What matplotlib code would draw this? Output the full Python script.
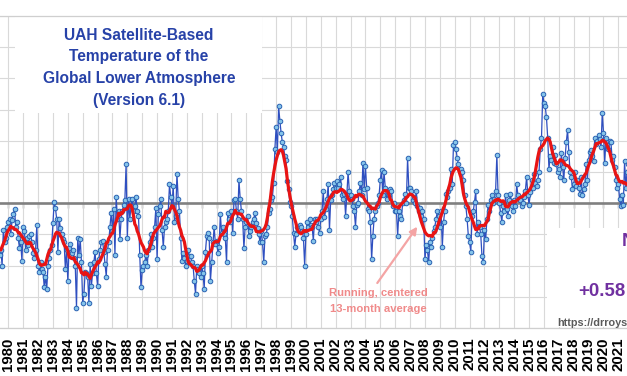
import numpy as np
import pandas as pd
import matplotlib
matplotlib.use("Agg")
import matplotlib.pyplot as plt
from matplotlib.patches import Rectangle

# ---- monthly anomalies (deg C), 12 plotted points per year label ----
a1979 = [-0.38, -0.45, -0.35, -0.38, -0.40, -0.33, -0.30, -0.40, -0.17, -0.25, -0.22, -0.15]
a1980 = [-0.12, -0.10, -0.20, -0.11, -0.07, -0.04, -0.15, -0.12, -0.22, -0.29, -0.25, -0.37]
a1981 = [-0.15, -0.18, -0.30, -0.22, -0.27, -0.21, -0.20, -0.25, -0.32, -0.35, -0.30, -0.14]
a1982 = [-0.40, -0.44, -0.38, -0.42, -0.44, -0.54, -0.47, -0.55, -0.40, -0.35, -0.30, -0.27]
a1983 = [-0.13, 0.01, -0.03, -0.10, -0.31, -0.10, -0.16, -0.20, -0.23, -0.25, -0.42, -0.30]
a1984 = [-0.50, -0.29, -0.26, -0.32, -0.30, -0.35, -0.40, -0.67, -0.22, -0.33, -0.23, -0.38]
a1985 = [-0.64, -0.58, -0.44, -0.45, -0.47, -0.64, -0.39, -0.53, -0.45, -0.38, -0.31, -0.45]
a1986 = [-0.53, -0.36, -0.30, -0.25, -0.24, -0.31, -0.39, -0.47, -0.30, -0.25, -0.15, -0.06]
a1987 = [-0.18, -0.04, -0.33, 0.04, -0.10, -0.05, -0.23, -0.10, -0.05, -0.01, 0.02, 0.25]
a1988 = [-0.22, 0.03, -0.10, -0.02, 0.03, -0.05, -0.02, 0.04, -0.05, -0.08, -0.33, -0.54]
a1989 = [-0.43, -0.40, -0.38, -0.33, -0.40, -0.30, -0.25, -0.20, -0.28, -0.22, -0.15, -0.03]
a1990 = [-0.36, -0.07, -0.02, 0.03, -0.17, -0.28, -0.15, -0.12, -0.10, -0.05, 0.12, 0.04]
a1991 = [-0.02, 0.11, -0.12, -0.08, 0.19, 0.03, -0.05, -0.22, -0.37, -0.32, -0.35, -0.40]
a1992 = [-0.37, -0.30, -0.34, -0.34, -0.38, -0.40, -0.50, -0.58, -0.40, -0.42, -0.45, -0.47]
a1993 = [-0.40, -0.45, -0.55, -0.31, -0.21, -0.19, -0.22, -0.50, -0.38, -0.25, -0.15, -0.26]
a1994 = [-0.24, -0.32, -0.28, -0.07, -0.19, -0.15, -0.20, -0.22, -0.38, -0.06, -0.10, -0.12]
a1995 = [-0.05, -0.19, 0.02, 0.03, -0.05, -0.10, 0.15, 0.03, -0.05, -0.10, -0.29, -0.15]
a1996 = [-0.12, -0.08, -0.21, -0.18, -0.15, -0.12, -0.10, -0.06, -0.13, -0.16, -0.20, -0.25]
a1997 = [-0.18, -0.25, -0.38, -0.21, -0.20, -0.15, -0.06, -0.04, 0.02, 0.04, 0.13, 0.35]
a1998 = [0.49, 0.33, 0.62, 0.53, 0.45, 0.39, 0.36, 0.30, 0.28, 0.14, 0.09, 0.01]
a1999 = [-0.02, -0.08, -0.19, -0.28, -0.20, -0.15, -0.17, -0.14, -0.15, -0.18, -0.22, -0.40]
a2000 = [-0.20, -0.12, -0.15, -0.10, -0.14, -0.15, -0.24, -0.10, -0.12, -0.10, -0.15, -0.19]
a2001 = [-0.10, -0.05, 0.08, -0.09, -0.04, 0.03, 0.12, -0.17, 0.02, 0.05, 0.09, 0.13]
a2002 = [0.10, 0.14, 0.10, 0.12, 0.17, 0.05, 0.03, 0.06, -0.08, 0.05, 0.20, 0.08]
a2003 = [0.05, 0.03, -0.02, -0.05, -0.15, -0.01, 0.00, 0.08, 0.13, 0.05, 0.26, 0.09]
a2004 = [0.24, 0.10, -0.04, -0.05, -0.12, -0.36, -0.21, -0.10, -0.05, -0.02, 0.00, 0.05]
a2005 = [0.15, 0.21, 0.05, 0.20, 0.10, 0.03, 0.06, 0.05, 0.09, 0.08, -0.02, 0.00]
a2006 = [-0.05, -0.05, -0.21, -0.05, -0.08, -0.10, 0.00, 0.02, 0.06, 0.00, 0.29, 0.10]
a2007 = [0.10, 0.08, 0.02, 0.04, 0.00, 0.08, -0.02, -0.05, -0.03, -0.08, -0.05, -0.10]
a2008 = [-0.36, -0.27, -0.30, -0.38, -0.25, -0.28, -0.22, -0.18, -0.15, -0.10, -0.05, -0.08]
a2009 = [-0.15, -0.05, -0.28, -0.12, -0.05, 0.06, 0.04, 0.08, 0.10, 0.22, 0.12, 0.37]
a2010 = [0.39, 0.35, 0.29, 0.25, 0.21, 0.22, 0.20, 0.15, 0.05, -0.02, -0.10, -0.21]
a2011 = [-0.25, -0.31, -0.08, -0.05, 0.01, 0.08, -0.20, -0.12, -0.15, -0.20, -0.34, -0.38]
a2012 = [-0.17, -0.23, -0.10, -0.01, -0.05, 0.02, 0.05, 0.00, 0.03, 0.08, 0.31, 0.05]
a2013 = [0.00, -0.06, -0.12, -0.02, -0.05, 0.05, -0.04, -0.08, 0.02, 0.06, -0.02, -0.05]
a2014 = [0.02, -0.02, 0.12, 0.05, 0.03, 0.02, -0.02, 0.00, 0.04, 0.08, 0.17, 0.05]
a2015 = [-0.01, 0.07, 0.15, 0.10, 0.19, 0.13, 0.11, 0.15, 0.20, 0.35, 0.42, 0.70]
a2016 = [0.64, 0.62, 0.55, 0.42, 0.22, 0.30, 0.28, 0.36, 0.26, 0.31, 0.25, 0.20]
a2017 = [0.22, 0.17, 0.32, 0.23, 0.15, 0.29, 0.39, 0.47, 0.33, 0.20, 0.17, 0.09]
a2018 = [0.12, 0.20, 0.11, 0.15, 0.10, 0.06, 0.17, 0.05, 0.09, 0.12, 0.25, 0.15]
a2019 = [0.28, 0.33, 0.34, 0.30, 0.27, 0.42, 0.38, 0.40, 0.44, 0.41, 0.36, 0.58]
a2020 = [0.45, 0.26, 0.42, 0.37, 0.35, 0.40, 0.39, 0.28, 0.30, 0.23, 0.15, 0.10]
a2021 = [0.12, 0.03, -0.02, 0.05, -0.01, 0.27, 0.10, 0.20, 0.25, 0.35, 0.08, 0.20]
a2022 = [0.03, 0.00]

years_data = list(range(1979, 2023))
tick_years = list(range(1980, 2022))
title_lines = ["UAH Satellite-Based", "Temperature of the",
               "Global Lower Atmosphere", "(Version 6.1)"]
note_lines = ["Running, centered", "13-month average"]
latest_text = "+0.58"
url_text = "https://drroyspencer.com"

# ---- assemble series ----
ns = globals()
vals, xs = [], []
for y in years_data:
    arr = ns["a%d" % y]
    for k, v in enumerate(arr):
        xs.append(y + k / 12.0)
        vals.append(v)
series = pd.Series(vals, index=xs)
running = series.rolling(13, center=True).mean()

# ---- figure / layout ----
W, H = 627, 376
fig = plt.figure(figsize=(W / 100, H / 100), dpi=100)
top_px, bot_px = 16, 328
ax = fig.add_axes([0, 1 - bot_px / H, 1, (bot_px - top_px) / H])

X0_PX, PX_PER_YR = 8.3, 14.88
def px2x(px):
    return 1980 + (px - X0_PX) / PX_PER_YR
YMIN, YMAX = -0.8, 1.2
def py2y(py):
    return YMAX - (py - top_px) / (bot_px - top_px) * (YMAX - YMIN)
def fx(px):
    return px / W
def fy(py):
    return 1 - py / H

ax.set_xlim(px2x(0), px2x(W))
ax.set_ylim(YMIN, YMAX)

ax.set_axisbelow(True)
ax.set_yticks(np.arange(-0.8, 1.21, 0.2))
ax.set_yticklabels([])
ax.set_xticks(tick_years)
ax.set_xticklabels([str(y) for y in tick_years], rotation=90,
                   fontsize=10.8, fontweight="bold", family="Liberation Sans",
                   color="black")
ax.tick_params(axis="x", length=0, pad=7)
ax.tick_params(axis="y", length=0)
ax.grid(True, color="#D9D9D9", lw=0.8)
for s in ("left", "right"):
    ax.spines[s].set_visible(False)
for s in ("top", "bottom"):
    ax.spines[s].set_color("#CFCFCF")
    ax.spines[s].set_linewidth(0.9)

# zero line with small year ticks
ax.axhline(0, color="#808080", lw=1.9, zorder=1.5)
sec = ax.secondary_xaxis((0 - YMIN) / (YMAX - YMIN))
sec.set_xticks(tick_years)
sec.tick_params(axis="x", direction="out", length=3.5, width=1.0,
                color="#808080", labelbottom=False, labeltop=False)
for s in sec.spines.values():
    s.set_visible(False)

# white boxes (title area, lower-right legend area)
ax.add_patch(Rectangle((fx(15), fy(113)), fx(262) - fx(15), fy(17) - fy(113),
                       transform=fig.transFigure, fc="white", ec="none", zorder=1))
ax.add_patch(Rectangle((fx(547), fy(327)), fx(640) - fx(547), fy(228) - fy(327),
                       transform=fig.transFigure, fc="white", ec="none", zorder=1))

# data
ax.plot(series.index, series.values, color="#2F4FC0", lw=0.9, marker="o",
        ms=3.3, mfc="#86C5EA", mec="#2A62B3", mew=0.7, zorder=3)
ax.plot(running.index, running.values, color="#E81414", lw=2.3, zorder=4,
        solid_capstyle="round")

# title
title_color = "#2742A8"
for line, yc in zip(title_lines, [35, 57, 79, 101]):
    fig.text(fx(139), fy(yc), line, ha="center", va="center", fontsize=11.2,
             fontweight="bold", family="Liberation Sans", color=title_color)

# annotation
note_color = "#F08A8A"
for line, yc in zip(note_lines, [293.5, 309.5]):
    fig.text(fx(378), fy(yc), line, ha="center", va="center", fontsize=8.1,
             fontweight="bold", family="Liberation Sans", color=note_color)
ax.annotate("", xy=(px2x(417.3), py2y(226.7)), xytext=(px2x(377.3), py2y(283)),
            arrowprops=dict(arrowstyle="-|>", color="#F4A4A4", lw=1.6,
                            mutation_scale=11, shrinkA=0, shrinkB=0), zorder=5)

# right-side texts (cut off by the crop)
purple = "#7030A0"
fig.text(fx(621.5), fy(241.5), "N", ha="left", va="center", fontsize=13.4,
         fontweight="bold", family="Liberation Sans", color=purple)
fig.text(fx(578), fy(291.5), latest_text, ha="left", va="center", fontsize=13.4,
         fontweight="bold", family="Liberation Sans", color=purple)
fig.text(fx(557), fy(325.5), url_text, ha="left", va="baseline", fontsize=7.8,
         fontweight="bold", family="Liberation Sans", color="#5A5A5A")

fig.savefig("out.png", dpi=100, facecolor="white")
